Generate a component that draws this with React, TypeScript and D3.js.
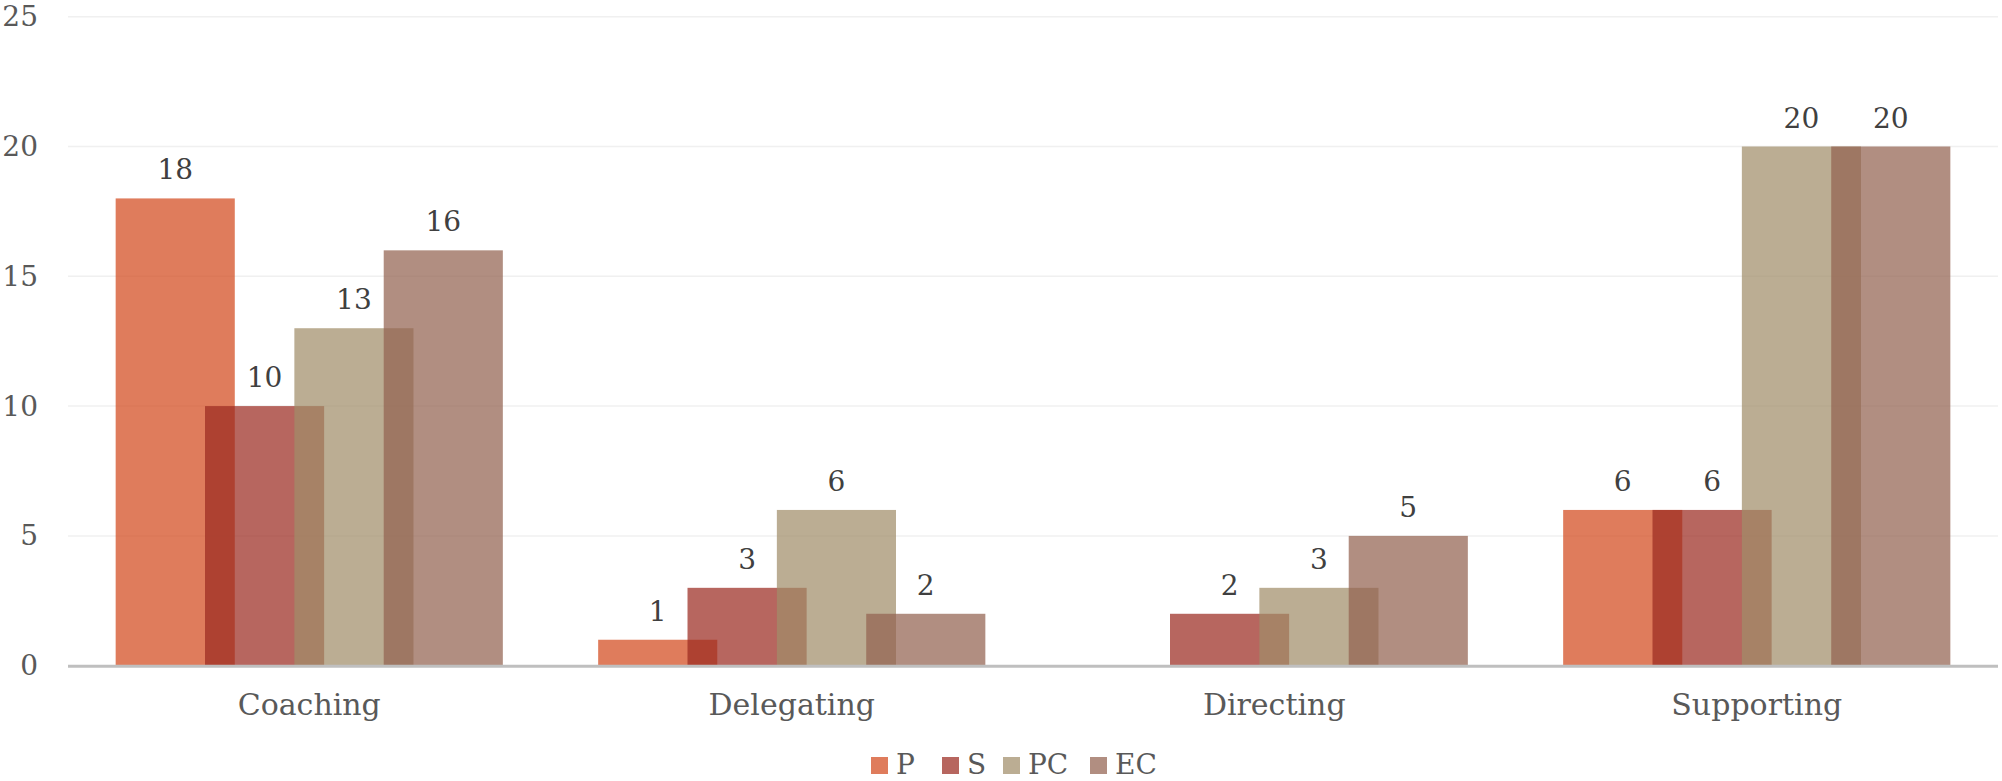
import React, { useEffect } from "react";
import * as d3 from "d3";

const categories = ["Coaching", "Delegating", "Directing", "Supporting"];
const seriesNames = ["P", "S", "PC", "EC"];
const valuesP = [18, 1, 0, 6];
const valuesS = [10, 3, 2, 6];
const valuesPC = [13, 6, 3, 20];
const valuesEC = [16, 2, 5, 20];
const yTicks = [0, 5, 10, 15, 20, 25];
const seriesColors = ["#D3491D", "#9B2B21", "#A18D6A", "#936250"];

const W = 2002;
const H = 781;
const FONT = "'DejaVu Serif', serif";
const OPACITY = 0.72;

export default function App() {
  useEffect(() => {
    document.body.style.margin = "0";
    document.body.style.overflow = "hidden";
  }, []);

  const seriesValues = [valuesP, valuesS, valuesPC, valuesEC];
  const x = d3.scaleBand<string>().domain(categories).range([68, 1998]).paddingInner(0).paddingOuter(0);
  const y = d3.scaleLinear().domain([0, 25]).range([665.7, 16.7]);
  const band = x.bandwidth();
  const bw = band / 4.05;
  const step = bw * 0.75;
  const groupW = step * 3 + bw;

  const legendX = [871, 942, 1003, 1090];

  return (
    <svg width={W} height={H} style={{ display: "block" }} fontFamily={FONT}>
      <rect width={W} height={H} fill="#ffffff" />
      {yTicks.map((t) =>
        t === 0 ? null : (
          <line key={"g" + t} x1={68} x2={1998} y1={y(t)} y2={y(t)} stroke="#F0F0F0" strokeWidth={1.5} />
        )
      )}
      {yTicks.map((t) => (
        <text key={"t" + t} x={38} y={y(t)} textAnchor="end" dominantBaseline="central" fontSize={28} fill="#595959">
          {t}
        </text>
      ))}
      {seriesValues.map((vals, si) =>
        categories.map((c, ci) => {
          const v = vals[ci];
          if (v <= 0) return null;
          const x0 = (x(c) as number) + (band - groupW) / 2 + si * step;
          return (
            <rect
              key={si + "-" + ci}
              x={x0}
              y={y(v)}
              width={bw}
              height={y(0) - y(v)}
              fill={seriesColors[si]}
              fillOpacity={OPACITY}
            />
          );
        })
      )}
      <line x1={68} x2={1998} y1={y(0) + 0.5} y2={y(0) + 0.5} stroke="#BFBFBF" strokeWidth={3} />
      {seriesValues.map((vals, si) =>
        categories.map((c, ci) => {
          const v = vals[ci];
          if (v <= 0) return null;
          const x0 = (x(c) as number) + (band - groupW) / 2 + si * step;
          return (
            <text key={"l" + si + "-" + ci} x={x0 + bw / 2} y={y(v) - 19} textAnchor="middle" fontSize={28} fill="#404040">
              {v}
            </text>
          );
        })
      )}
      {categories.map((c) => (
        <text key={"c" + c} x={(x(c) as number) + band / 2} y={715} textAnchor="middle" fontSize={30} fill="#595959">
          {c}
        </text>
      ))}
      {seriesNames.map((n, i) => (
        <g key={"lg" + n}>
          <rect x={legendX[i]} y={757} width={17} height={17} fill={seriesColors[i]} fillOpacity={OPACITY} />
          <text x={legendX[i] + 25} y={774} fontSize={28} fill="#595959">
            {n}
          </text>
        </g>
      ))}
    </svg>
  );
}
